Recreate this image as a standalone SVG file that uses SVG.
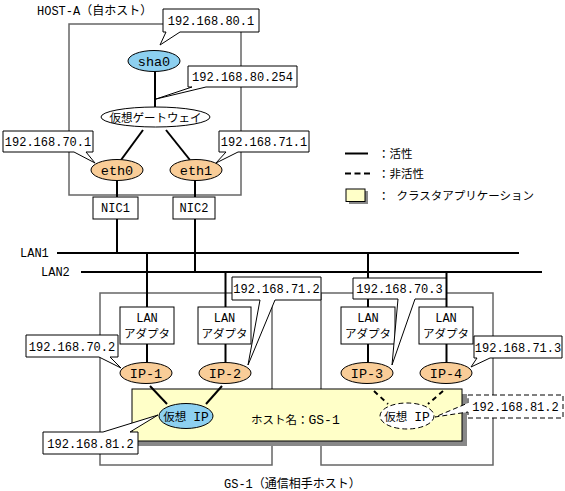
<svg xmlns="http://www.w3.org/2000/svg" width="565" height="491" viewBox="0 0 565 491">
<style>
text{font-family:"Liberation Mono","Noto Sans CJK JP",monospace;fill:#000}
.c{text-anchor:middle}
.t{font-size:12px}
.n{font-size:13.5px}
.j{font-size:11.5px}
.big{font-size:13px}
.sys{fill:none;stroke:#666;stroke-width:1.5}
.co{fill:#fff;stroke:#000;stroke-width:1}
.cod{fill:#fff;stroke:#000;stroke-width:1;stroke-dasharray:5,3}
.box{fill:#fff;stroke:#000;stroke-width:1}
.ln{stroke:#000;stroke-width:2;fill:none}
.dl{stroke:#000;stroke-width:2;fill:none;stroke-dasharray:5,4}
.or{fill:#f9cd98;stroke:#000;stroke-width:1}
.bl{fill:#8dd0f0;stroke:#000;stroke-width:1}
</style>

<!-- system frames -->
<g id="host-a-frame">
<rect class="sys" x="69" y="24" width="172" height="171"/>
<text class="t" x="37" y="15">HOST-A（自ホスト）</text>
</g>
<g id="gs1-frame">
<rect class="sys" x="100" y="293" width="172" height="172"/>
<rect class="sys" x="321" y="293" width="172" height="172"/>
<text class="t" x="224" y="488">GS-1（通信相手ホスト）</text>
</g>

<!-- LANs -->
<g id="lan1">
<line class="ln" x1="57" y1="253" x2="519" y2="253"/>
<text class="t" x="20" y="257">LAN1</text>
</g>
<g id="lan2">
<line class="ln" x1="81" y1="272" x2="542" y2="272"/>
<text class="t" x="41" y="276">LAN2</text>
</g>

<!-- connectors -->
<g id="connectors">
<line class="ln" x1="155" y1="71" x2="155" y2="107"/>
<line class="ln" x1="143" y1="130" x2="121" y2="160"/>
<line class="ln" x1="166" y1="130" x2="190" y2="160"/>
<line class="ln" x1="117" y1="180" x2="117" y2="197"/>
<line class="ln" x1="117" y1="219" x2="117" y2="253"/>
<line class="ln" x1="195" y1="180" x2="195" y2="197"/>
<line class="ln" x1="195" y1="219" x2="195" y2="272"/>
<line class="ln" x1="147" y1="253" x2="147" y2="307"/>
<line class="ln" x1="147" y1="344" x2="147" y2="362"/>
<line class="ln" x1="225.5" y1="272" x2="225.5" y2="307"/>
<line class="ln" x1="225.5" y1="344" x2="225.5" y2="362"/>
<line class="ln" x1="368" y1="253" x2="368" y2="307"/>
<line class="ln" x1="368" y1="344" x2="368" y2="362"/>
<line class="ln" x1="446.5" y1="272" x2="446.5" y2="307"/>
<line class="ln" x1="446.5" y1="344" x2="446.5" y2="362"/>
</g>

<!-- HOST-A nodes -->
<g id="sha0">
<ellipse class="bl" cx="154" cy="61" rx="26" ry="10.5"/>
<text class="n c" x="154" y="66">sha0</text>
</g>
<g id="gateway">
<ellipse class="box" cx="155.5" cy="117" rx="54.5" ry="10"/>
<text class="j c" x="155.5" y="121.5">仮想ゲートウェイ</text>
</g>
<g id="eth0">
<ellipse class="or" cx="117" cy="170" rx="26" ry="10.5"/>
<text class="n c" x="117" y="175">eth0</text>
</g>
<g id="eth1">
<ellipse class="or" cx="196" cy="170" rx="26" ry="10.5"/>
<text class="n c" x="196" y="175">eth1</text>
</g>
<g id="nic1">
<rect class="box" x="93" y="197" width="45" height="22"/>
<text class="t c" x="115.5" y="212">NIC1</text>
</g>
<g id="nic2">
<rect class="box" x="173" y="197" width="42" height="22"/>
<text class="t c" x="194" y="212">NIC2</text>
</g>

<!-- HOST-A callouts -->
<g id="callout-80-1">
<path class="co" d="M163,9 H259 V32 H180 L160,45 L166,32 H163 Z"/>
<text class="t c" x="211" y="25">192.168.80.1</text>
</g>
<g id="callout-80-254">
<path class="co" d="M188,66 H297 V87 H206 L156,99 L192,87 H188 Z"/>
<text class="t c" x="242.5" y="81">192.168.80.254</text>
</g>
<g id="callout-70-1">
<path class="co" d="M3,131 H93 V152 H86 L95,163 L74,152 H3 Z"/>
<text class="t c" x="48" y="146">192.168.70.1</text>
</g>
<g id="callout-71-1">
<path class="co" d="M219,131 H309 V152 H238 L216,163 L226,152 H219 Z"/>
<text class="t c" x="264" y="146">192.168.71.1</text>
</g>

<!-- GS-1 nodes -->
<g id="adapter1">
<rect class="box" x="120" y="307" width="54" height="37"/>
<text class="t c" x="147" y="322">LAN</text>
<text class="j c" x="147" y="338">アダプタ</text>
</g>
<g id="adapter2">
<rect class="box" x="198" y="307" width="53" height="37"/>
<text class="t c" x="224.5" y="322">LAN</text>
<text class="j c" x="224.5" y="338">アダプタ</text>
</g>
<g id="adapter3">
<rect class="box" x="341" y="307" width="54" height="37"/>
<text class="t c" x="368" y="322">LAN</text>
<text class="j c" x="368" y="338">アダプタ</text>
</g>
<g id="adapter4">
<rect class="box" x="419" y="307" width="54" height="37"/>
<text class="t c" x="446" y="322">LAN</text>
<text class="j c" x="446" y="338">アダプタ</text>
</g>

<g id="cluster-app">
<rect x="137" y="394" width="330" height="52" fill="#888"/>
<rect x="132" y="389" width="330" height="52" fill="#ffffc8" stroke="#000" stroke-width="1"/>
<text class="j" x="251" y="424">ホスト名：<tspan class="big">GS-1</tspan></text>
</g>

<g id="connectors-gs1">
<line class="ln" x1="150" y1="386" x2="167" y2="404"/>
<line class="ln" x1="222" y1="386" x2="206" y2="404"/>
<line class="dl" x1="374" y1="391" x2="388" y2="404"/>
<line class="dl" x1="443" y1="391" x2="428" y2="404"/>
</g>

<g id="ip1">
<ellipse class="or" cx="146" cy="373" rx="26" ry="10.5"/>
<text class="n c" x="146" y="378">IP-1</text>
</g>
<g id="ip2">
<ellipse class="or" cx="225" cy="373" rx="26" ry="10.5"/>
<text class="n c" x="225" y="378">IP-2</text>
</g>
<g id="ip3">
<ellipse class="or" cx="367" cy="373" rx="26" ry="10.5"/>
<text class="n c" x="367" y="378">IP-3</text>
</g>
<g id="ip4">
<ellipse class="or" cx="446" cy="373" rx="26" ry="10.5"/>
<text class="n c" x="446" y="378">IP-4</text>
</g>
<g id="vip-active">
<ellipse class="bl" cx="186" cy="416" rx="27" ry="12.5"/>
<text class="j c" x="186" y="421">仮想 <tspan class="big">IP</tspan></text>
</g>
<g id="vip-standby">
<ellipse cx="407" cy="416" rx="27" ry="13" fill="#fff" stroke="#000" stroke-width="1" stroke-dasharray="5,3"/>
<text class="j c" x="407" y="421">仮想 <tspan class="big">IP</tspan></text>
</g>

<!-- GS-1 callouts -->
<g id="callout-71-2">
<path class="co" d="M232,277 H321 V300 H275 L248,365 L260,300 H232 Z"/>
<text class="t c" x="276.5" y="293">192.168.71.2</text>
</g>
<g id="callout-70-3">
<path class="co" d="M353,278 H446 V299 H415 L392,365 L398,299 H353 Z"/>
<text class="t c" x="399.5" y="293">192.168.70.3</text>
</g>
<g id="callout-70-2">
<path class="co" d="M26,335 H118 V357 H110 L121,368 L99,357 H26 Z"/>
<text class="t c" x="72" y="350.5">192.168.70.2</text>
</g>
<g id="callout-71-3">
<path class="co" d="M474,336 H562 V358 H490 L471,367 L477,358 H474 Z"/>
<text class="t c" x="518" y="351.5">192.168.71.3</text>
</g>
<g id="callout-81-2-active">
<path class="co" d="M43,432 H103 L158,415 L130,432 H138 V454 H43 Z"/>
<text class="t c" x="90.5" y="447.5">192.168.81.2</text>
</g>
<g id="callout-81-2-standby">
<path class="cod" d="M468,395 H563 V418 H468 V412 L435,417 L468,403 Z"/>
<text class="t c" x="515.5" y="411">192.168.81.2</text>
</g>

<!-- legend -->
<g id="legend">
<line x1="345" y1="153.5" x2="368" y2="153.5" stroke="#000" stroke-width="2"/>
<text class="j" x="378" y="158">：活性</text>
<line x1="345" y1="173.5" x2="370" y2="173.5" stroke="#000" stroke-width="2" stroke-dasharray="6,3.5"/>
<text class="j" x="378" y="178">：非活性</text>
<rect x="349" y="191" width="19" height="13" fill="#888"/>
<rect x="346" y="189" width="19" height="12.5" fill="#ffffc8" stroke="#000" stroke-width="1"/>
<text class="j" x="378" y="200">： クラスタアプリケーション</text>
</g>
</svg>
